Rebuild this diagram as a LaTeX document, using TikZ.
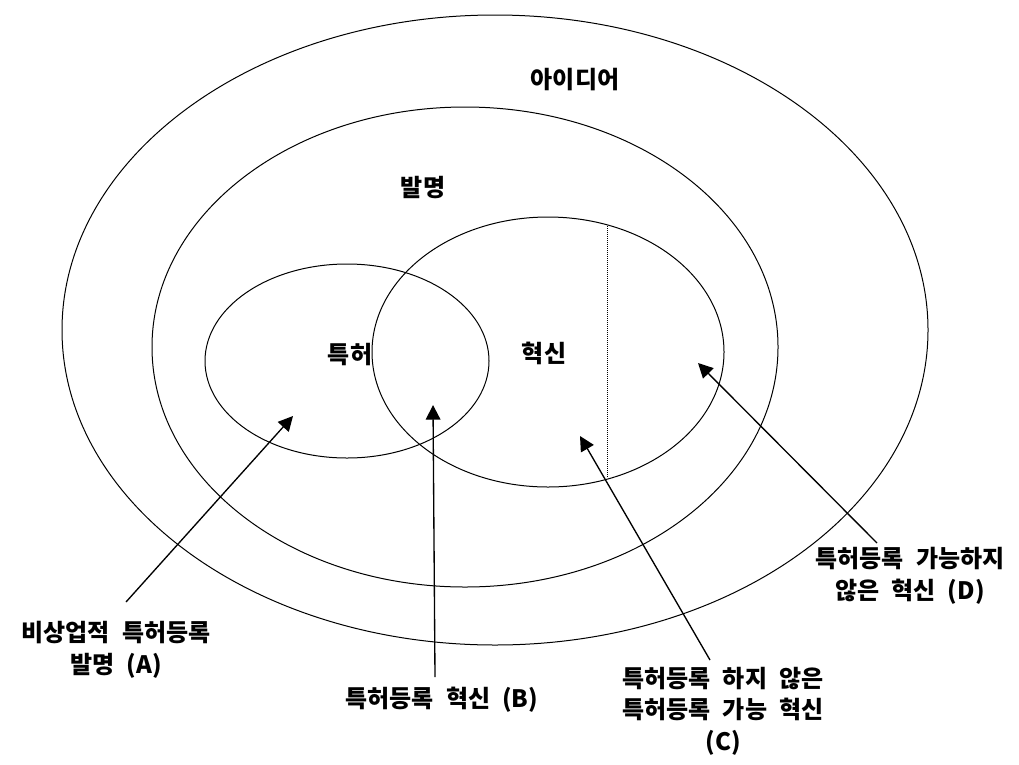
\documentclass[tikz,border=0pt]{standalone}
\usepackage{fontspec}
\setmainfont{Noto Sans CJK KR}[WordSpace=2.2]
\usetikzlibrary{shapes.geometric,arrows.meta}
\begin{document}
\begin{tikzpicture}[x=0.75pt,y=-0.75pt,
  ring/.style={draw, ellipse, inner sep=0pt, line width=0.75pt},
  lbl/.style={font=\bfseries\fontsize{18pt}{23.6pt}\selectfont, align=center, inner sep=0pt},
  arr/.style={-{Triangle[length=11pt,width=11pt]}, line width=1pt},
]
\useasboundingbox[fill=white] (0,0) rectangle (1019,764);
\node[ring, minimum width=866*0.75pt, minimum height=630*0.75pt] (idea) at (495,330) {};
\node[ring, minimum width=626*0.75pt, minimum height=480*0.75pt] (invention) at (465,347) {};
\node[ring, minimum width=284*0.75pt, minimum height=194*0.75pt] (patent) at (347,361) {};
\node[ring, minimum width=352*0.75pt, minimum height=270*0.75pt] (innov) at (548,352) {};
\coordinate (dtop) at (607,226);
\coordinate (dbot) at (607,478);
\draw[line width=0.75pt, dash pattern=on 0.75pt off 0.75pt] (dtop) -- (dbot);

\node[lbl] (tidea) at (575,80) {아이디어};
\node[lbl] (tinv) at (423,188) {발명};
\node[lbl] (tpat) at (350,355) {특허};
\node[lbl] (tinn) at (544,353) {혁신};

\node[lbl] (la) at (116,650) {비상업적 특허등록\\발명 (A)};
\node[lbl] (lb) at (442,700) {특허등록 혁신 (B)};
\node[lbl] (lc) at (723,711) {특허등록 하지 않은\\특허등록 가능 혁신\\(C)};
\node[lbl] (ld) at (910,576) {특허등록 가능하지\\않은 혁신 (D)};

\coordinate (ta) at (126,602); \coordinate (pa) at (293,416);
\coordinate (tb) at (435,677); \coordinate (pb) at (433,405);
\coordinate (tc) at (710,660); \coordinate (pc) at (580,436);
\coordinate (td) at (877,543); \coordinate (pd) at (698,363);
\draw[arr] (ta) -- (pa);
\draw[arr] (tb) -- (pb);
\draw[arr] (tc) -- (pc);
\draw[arr] (td) -- (pd);
\end{tikzpicture}
\end{document}
